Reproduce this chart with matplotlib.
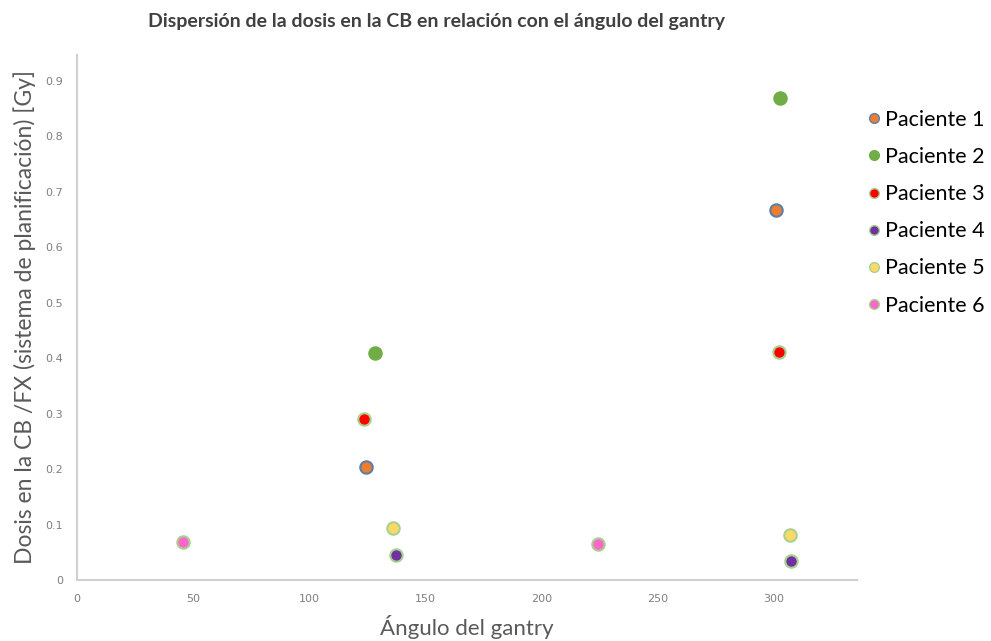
import matplotlib
matplotlib.use("Agg")
import matplotlib.pyplot as plt
from matplotlib.lines import Line2D

# Data
pacientes = ["Paciente 1", "Paciente 2", "Paciente 3",
             "Paciente 4", "Paciente 5", "Paciente 6"]
angulos = [
    [124.3, 300.9],   # Paciente 1
    [128.5, 303.0],   # Paciente 2
    [123.5, 302.2],   # Paciente 3
    [137.3, 307.4],   # Paciente 4
    [136.0, 307.0],   # Paciente 5
    [45.6, 224.3],    # Paciente 6
]
dosis = [
    [0.204, 0.667],
    [0.409, 0.868],
    [0.290, 0.411],
    [0.045, 0.034],
    [0.094, 0.081],
    [0.068, 0.065],
]
colores = ["#ED7D31", "#70AD47", "#FF0000", "#7030A0", "#FFD966", "#FF66CC"]
bordes = ["#5B7FA6", "#70AD47", "#A9D18E", "#A9D18E", "#A9D18E", "#A9D18E"]

W, H = 991, 641
fig = plt.figure(figsize=(W / 100, H / 100), dpi=100)
ax = fig.add_axes([77 / W, (H - 580) / H, 780 / W, 525 / H])

for ang, dos, c, e in zip(angulos, dosis, colores, bordes):
    ax.scatter(ang, dos, s=80, color=c, edgecolors=e, linewidths=1.5, zorder=3)

ax.set_xlim(0, 336)
ax.set_ylim(0, 0.946)
ax.set_xticks(range(0, 301, 50))
ax.set_yticks([i / 10 for i in range(10)])
ax.set_yticklabels(["0"] + ["0.%d" % i for i in range(1, 10)])

for s in ["top", "right"]:
    ax.spines[s].set_visible(False)
for s in ["left", "bottom"]:
    ax.spines[s].set_color("#D0D0D0")
    ax.spines[s].set_linewidth(1.5)
ax.tick_params(length=0, labelsize=8, colors="#7F7F7F", pad=10)

ax.set_xlabel("Ángulo del gantry", fontsize=16, color="#595959",
              family="Lato", labelpad=8)
ax.set_ylabel("Dosis en la CB /FX (sistema de planificación) [Gy]",
              fontsize=16.5, color="#595959", family="Lato", labelpad=7)

fig.text(148 / W, 1 - 22 / H,
         "Dispersión de la dosis en la CB en relación con el ángulo del gantry",
         fontsize=14, fontweight="bold", color="#404040",
         family="Lato", va="center", ha="left")

handles = [Line2D([], [], linestyle="none", marker="o", markersize=7,
                  markerfacecolor=c, markeredgecolor=e, markeredgewidth=1)
           for c, e in zip(colores, bordes)]
fig.legend(handles, pacientes, loc="upper left",
           bbox_to_anchor=(855 / W, 1 - 101 / H), frameon=False,
           prop={"family": "Lato", "size": 15.5}, handletextpad=0.0,
           handlelength=1.0, labelspacing=0.8, borderaxespad=0)

fig.savefig("out.png", dpi=100)
